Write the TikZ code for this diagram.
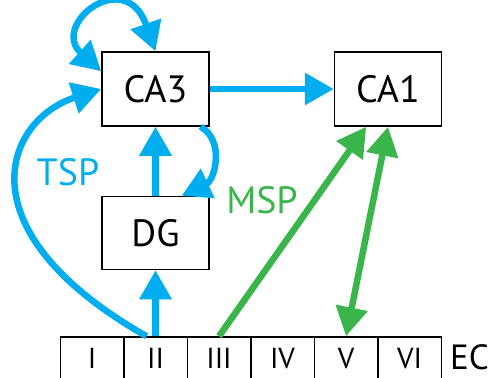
\documentclass[tikz,border=0pt]{standalone}
\usepackage{fontspec}
\setmainfont{PT Sans}
\usepackage{tikz}
\usetikzlibrary{arrows.meta,positioning}
\definecolor{tspblue}{HTML}{00AEEF}
\definecolor{mspgreen}{HTML}{39B54A}

\begin{document}
\begin{tikzpicture}[
  x=1pt,y=-1pt,
  region/.style={draw,line width=1.5pt,minimum width=107pt,minimum height=74pt,inner sep=0pt,font=\fontsize{38}{40}\selectfont},
  layer/.style={draw,line width=1.5pt,minimum width=63.5pt,minimum height=43pt,inner sep=0pt,font=\fontsize{29}{31}\selectfont},
  arr/.style={-{Triangle[length=29pt,width=31pt]},line width=6.5pt},
  both/.style={{Triangle[length=29pt,width=31pt]}-{Triangle[length=29pt,width=31pt]}},
  blue/.style={tspblue,arr},
  green/.style={mspgreen,arr},
  ann/.style={font=\fontsize{38}{40}\selectfont,inner sep=0pt}
]
\useasboundingbox (0,0) rectangle (499,378);
\clip (0,0) rectangle (499,378);

\node[region] (ca3) at (155.5,89) {CA3};
\node[region,right=124pt of ca3] (ca1) {CA1};
\node[region,minimum height=73pt,below=69pt of ca3] (dg) {DG};

% entorhinal cortex layers
\foreach \r [count=\i] in {I,II,III,IV,V,VI}
  \node[layer] (ec\i) at ({60.25+63.5*(\i-0.5)},358.5) {\r};
\node[ann,font=\fontsize{35}{37}\selectfont,right=8pt of ec6,yshift=1pt] (ec) {EC};

% trisynaptic path
\draw[blue,both] ([yshift=-20pt]ca3.north west) .. controls (50,25) and (125,-35) .. (ca3.north);
\draw[blue] ([xshift=-9pt]ec2.north) .. controls (-40,230) and (5,120) .. (ca3.west);
\draw[blue] (ec2.north) -- (dg.south);
\draw[blue] (dg.north) -- (ca3.south);
\draw[blue] (ca3.-40) .. controls (225,140) and (215,180) .. (dg.55);
\draw[blue] (ca3.east) -- (ca1.west);
\node[ann,text=tspblue] (tsp) at (68,172) {TSP};

% monosynaptic path
\draw[green] (ec3.north) -- (ca1.-120);
\draw[green,both] (ec5.north) -- (ca1.south);
\node[ann,text=mspgreen] (msp) at (262,200) {MSP};
\end{tikzpicture}
\end{document}
